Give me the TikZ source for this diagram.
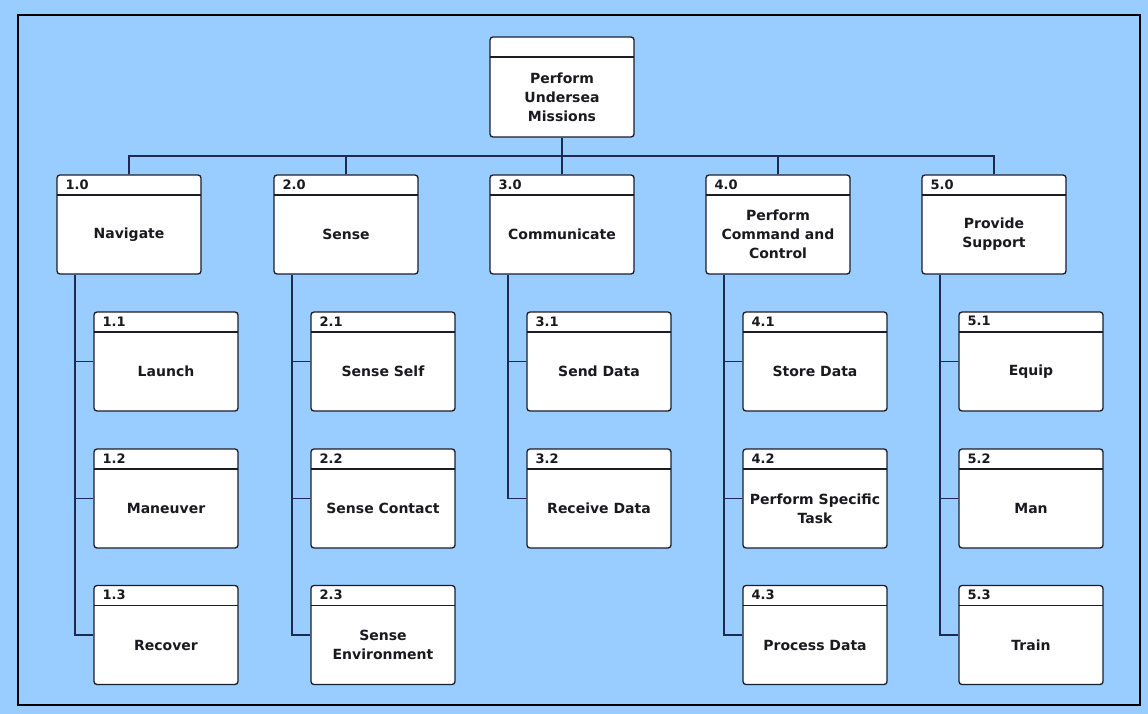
\documentclass[tikz,border=0pt]{standalone}
\usepackage{fontspec}
\setmainfont{DejaVu Sans}
\definecolor{bgblue}{RGB}{153,204,255}
\definecolor{linknavy}{RGB}{30,42,82}
\definecolor{boxline}{RGB}{28,28,40}
\definecolor{inktext}{RGB}{25,25,30}

\begin{document}
\begin{tikzpicture}[x=1pt,y=-1pt,
    fbox/.style={draw=boxline, line width=1.3pt, fill=white, rounded corners=3pt,
      minimum width=144pt, minimum height=99pt, inner sep=0pt,
      path picture={\draw[boxline, line width=1.3pt]
        ([yshift=-20pt]path picture bounding box.north west) --
        ([yshift=-20pt]path picture bounding box.north east);}},
    ftext/.style={font=\bfseries\fontsize{14}{19}\selectfont, text=inktext, align=center, inner sep=0pt},
    fnum/.style={font=\bfseries\fontsize{13}{15}\selectfont, text=inktext, anchor=west, inner sep=0pt},
    link/.style={draw=linknavy, line width=1.5pt}]

    % Background and frame
    \fill[bgblue] (0,0) rectangle (1148,714);
    \draw[black, line width=2.5pt] (18,15) rectangle (1140,705);

    % Top function
    \node[fbox, minimum height=100pt] (top) at (562,87) {};
    \node[ftext] (ttop) at ([yshift=-10pt]top.center) {Perform\\Undersea\\Missions};

    % First level
    \node[fbox] (p1) at (129,224.5) {};
    \node[fnum] (n1) at ([xshift=9pt,yshift=-10pt]p1.north west) {1.0};
    \node[ftext] (t1) at ([yshift=-10pt]p1.center) {Navigate};

    \node[fbox] (p2) at (346,224.5) {};
    \node[fnum] (n2) at ([xshift=9pt,yshift=-10pt]p2.north west) {2.0};
    \node[ftext] (t2) at ([yshift=-10pt]p2.center) {Sense};

    \node[fbox] (p3) at (562,224.5) {};
    \node[fnum] (n3) at ([xshift=9pt,yshift=-10pt]p3.north west) {3.0};
    \node[ftext] (t3) at ([yshift=-10pt]p3.center) {Communicate};

    \node[fbox] (p4) at (778,224.5) {};
    \node[fnum] (n4) at ([xshift=9pt,yshift=-10pt]p4.north west) {4.0};
    \node[ftext] (t4) at ([yshift=-10pt]p4.center) {Perform\\Command and\\Control};

    \node[fbox] (p5) at (994,224.5) {};
    \node[fnum] (n5) at ([xshift=9pt,yshift=-10pt]p5.north west) {5.0};
    \node[ftext] (t5) at ([yshift=-10pt]p5.center) {Provide\\Support};

    % Navigate
    \node[fbox] (c11) at (166,361.5) {};
    \node[fnum] (n11) at ([xshift=9pt,yshift=-10pt]c11.north west) {1.1};
    \node[ftext] (t11) at ([yshift=-10pt]c11.center) {Launch};
    \node[fbox] (c12) at (166,498.5) {};
    \node[fnum] (n12) at ([xshift=9pt,yshift=-10pt]c12.north west) {1.2};
    \node[ftext] (t12) at ([yshift=-10pt]c12.center) {Maneuver};
    \node[fbox] (c13) at (166,635) {};
    \node[fnum] (n13) at ([xshift=9pt,yshift=-10pt]c13.north west) {1.3};
    \node[ftext] (t13) at ([yshift=-10pt]c13.center) {Recover};

    % Sense
    \node[fbox] (c21) at (383,361.5) {};
    \node[fnum] (n21) at ([xshift=9pt,yshift=-10pt]c21.north west) {2.1};
    \node[ftext] (t21) at ([yshift=-10pt]c21.center) {Sense Self};
    \node[fbox] (c22) at (383,498.5) {};
    \node[fnum] (n22) at ([xshift=9pt,yshift=-10pt]c22.north west) {2.2};
    \node[ftext] (t22) at ([yshift=-10pt]c22.center) {Sense Contact};
    \node[fbox] (c23) at (383,635) {};
    \node[fnum] (n23) at ([xshift=9pt,yshift=-10pt]c23.north west) {2.3};
    \node[ftext] (t23) at ([yshift=-10pt]c23.center) {Sense\\Environment};

    % Communicate
    \node[fbox] (c31) at (599,361.5) {};
    \node[fnum] (n31) at ([xshift=9pt,yshift=-10pt]c31.north west) {3.1};
    \node[ftext] (t31) at ([yshift=-10pt]c31.center) {Send Data};
    \node[fbox] (c32) at (599,498.5) {};
    \node[fnum] (n32) at ([xshift=9pt,yshift=-10pt]c32.north west) {3.2};
    \node[ftext] (t32) at ([yshift=-10pt]c32.center) {Receive Data};

    % Command and control
    \node[fbox] (c41) at (815,361.5) {};
    \node[fnum] (n41) at ([xshift=9pt,yshift=-10pt]c41.north west) {4.1};
    \node[ftext] (t41) at ([yshift=-10pt]c41.center) {Store Data};
    \node[fbox] (c42) at (815,498.5) {};
    \node[fnum] (n42) at ([xshift=9pt,yshift=-10pt]c42.north west) {4.2};
    \node[ftext] (t42) at ([yshift=-10pt]c42.center) {Perform Specific\\Task};
    \node[fbox] (c43) at (815,635) {};
    \node[fnum] (n43) at ([xshift=9pt,yshift=-10pt]c43.north west) {4.3};
    \node[ftext] (t43) at ([yshift=-10pt]c43.center) {Process Data};

    % Support
    \node[fbox] (c51) at (1031,361.5) {};
    \node[fnum] (n51) at ([xshift=9pt,yshift=-10pt]c51.north west) {5.1};
    \node[ftext] (t51) at ([yshift=-10pt]c51.center) {Equip};
    \node[fbox] (c52) at (1031,498.5) {};
    \node[fnum] (n52) at ([xshift=9pt,yshift=-10pt]c52.north west) {5.2};
    \node[ftext] (t52) at ([yshift=-10pt]c52.center) {Man};
    \node[fbox] (c53) at (1031,635) {};
    \node[fnum] (n53) at ([xshift=9pt,yshift=-10pt]c53.north west) {5.3};
    \node[ftext] (t53) at ([yshift=-10pt]c53.center) {Train};

    % Bus from the top function
    \coordinate (bus) at (0,156);
    \draw[link] (top.south) -- (p3.north);
    \draw[link] (p1.north) -- (p1.north |- bus) -| (p5.north);
    \draw[link] (p2.north) -- (p2.north |- bus);
    \draw[link] (p4.north) -- (p4.north |- bus);

    % Trunks down to the children
    \coordinate (k1) at ([xshift=-54pt]p1.south);
    \coordinate (k2) at ([xshift=-54pt]p2.south);
    \coordinate (k3) at ([xshift=-54pt]p3.south);
    \coordinate (k4) at ([xshift=-54pt]p4.south);
    \coordinate (k5) at ([xshift=-54pt]p5.south);
    \draw[link] (k1) |- (c13.west);
    \draw[link] (k1 |- c11.west) -- (c11.west);
    \draw[link] (k1 |- c12.west) -- (c12.west);
    \draw[link] (k2) |- (c23.west);
    \draw[link] (k2 |- c21.west) -- (c21.west);
    \draw[link] (k2 |- c22.west) -- (c22.west);
    \draw[link] (k3) |- (c32.west);
    \draw[link] (k3 |- c31.west) -- (c31.west);
    \draw[link] (k4) |- (c43.west);
    \draw[link] (k4 |- c41.west) -- (c41.west);
    \draw[link] (k4 |- c42.west) -- (c42.west);
    \draw[link] (k5) |- (c53.west);
    \draw[link] (k5 |- c51.west) -- (c51.west);
    \draw[link] (k5 |- c52.west) -- (c52.west);
\end{tikzpicture}
\end{document}
